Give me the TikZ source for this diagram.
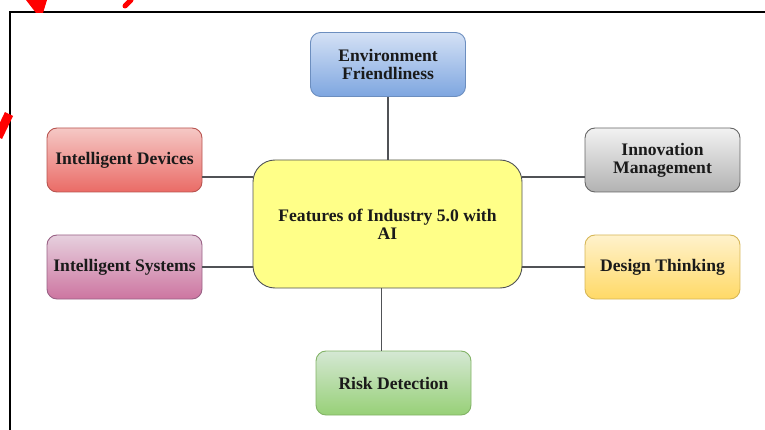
\documentclass[tikz,border=0pt]{standalone}
\usepackage{fontspec}
\setmainfont{Liberation Serif}
\usetikzlibrary{shadings}

\definecolor{envtop}{RGB}{212,225,245}
\definecolor{envbot}{RGB}{126,166,224}
\definecolor{envline}{RGB}{108,142,191}
\definecolor{devtop}{RGB}{245,200,197}
\definecolor{devbot}{RGB}{234,107,102}
\definecolor{devline}{RGB}{184,84,80}
\definecolor{inntop}{RGB}{242,242,242}
\definecolor{innbot}{RGB}{178,178,178}
\definecolor{innline}{RGB}{102,102,102}
\definecolor{systop}{RGB}{230,208,222}
\definecolor{sysbot}{RGB}{205,117,160}
\definecolor{sysline}{RGB}{153,97,133}
\definecolor{destop}{RGB}{255,242,204}
\definecolor{desbot}{RGB}{255,217,102}
\definecolor{desline}{RGB}{214,182,86}
\definecolor{risktop}{RGB}{213,232,212}
\definecolor{riskbot}{RGB}{151,208,119}
\definecolor{riskline}{RGB}{130,179,102}
\definecolor{ctrfill}{RGB}{255,255,136}
\definecolor{ctrline}{RGB}{80,82,86}
\definecolor{txt}{RGB}{26,26,26}

\begin{document}
\begin{tikzpicture}[x=1pt,y=-1pt,
		feature/.style={draw,line width=0.9pt,rounded corners=10pt,minimum width=155pt,
			minimum height=64pt,align=center,text=txt,
			font=\fontsize{17.6}{18}\selectfont\bfseries},
		link/.style={draw=ctrline,line width=1.2pt}]
	\useasboundingbox (0,0) rectangle (765,430);
	% frame of the page
	\draw[line width=1.3pt] (10,430)--(10,12)--(765,12);
	% red pen marks
	\fill[red] (26,0)--(47,0)--(43,13)--(36,13)--cycle;
	\draw[red,line width=5pt,line cap=round] (125,6)--(131,0);
	\draw[red,line width=9pt] (-2,137)--(9,114);
	% the boxes
	\node[feature,draw=ctrline,fill=ctrfill,rounded corners=22pt,minimum width=269pt,
		minimum height=128pt] (ctr) at (387.5,224) {Features of Industry 5.0 with\\AI};
	\node[feature,draw=envline,top color=envtop,bottom color=envbot] (env) at (388,64.5) {Environment\\Friendliness};
	\node[feature,draw=devline,top color=devtop,bottom color=devbot] (dev) at (124.5,160) {Intelligent Devices};
	\node[feature,draw=innline,top color=inntop,bottom color=innbot] (inn) at (662.5,160) {Innovation\\Management};
	\node[feature,draw=sysline,top color=systop,bottom color=sysbot] (sys) at (124.5,267) {Intelligent Systems};
	\node[feature,draw=desline,top color=destop,bottom color=desbot] (des) at (662.5,267) {Design Thinking};
	\node[feature,draw=riskline,top color=risktop,bottom color=riskbot] (risk) at (393.5,383) {Risk Detection};
	% connectors
	\draw[link] (env.south) -- (env.south |- ctr.north);
	\draw[link] ([yshift=-17pt]dev.east) -- ([yshift=-17pt]dev.east -| ctr.west);
	\draw[link] (sys.east) -- (sys.east -| ctr.west);
	\draw[link] ([yshift=-17pt]inn.west) -- ([yshift=-17pt]inn.west -| ctr.east);
	\draw[link] (des.west) -- (des.west -| ctr.east);
	\draw[link] ([xshift=-12pt]risk.north) -- ([xshift=-12pt]risk.north |- ctr.south);
\end{tikzpicture}
\end{document}
